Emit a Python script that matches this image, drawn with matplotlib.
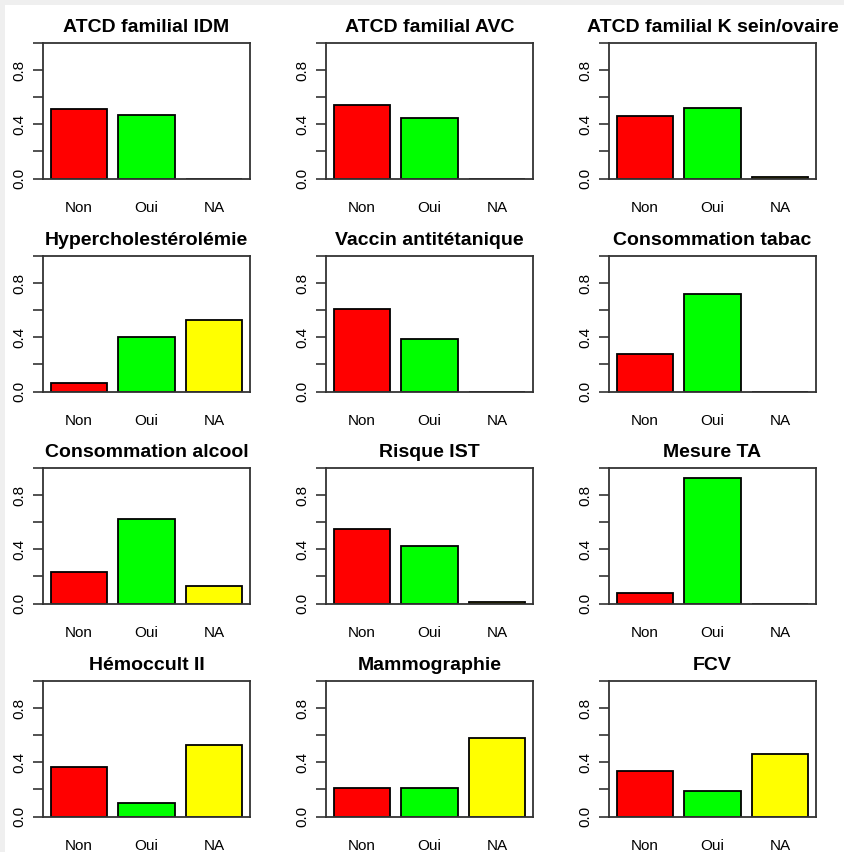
import matplotlib
matplotlib.use("Agg")
import matplotlib.pyplot as plt
from matplotlib.patches import Rectangle

titles = ["ATCD familial IDM", "ATCD familial AVC", "ATCD familial K sein/ovaire",
          "Hypercholestérolémie", "Vaccin antitétanique", "Consommation tabac",
          "Consommation alcool", "Risque IST", "Mesure TA",
          "Hémoccult II", "Mammographie", "FCV"]
categories = ["Non", "Oui", "NA"]
non_vals = [0.515, 0.544, 0.458, 0.064, 0.609, 0.274, 0.235, 0.553, 0.074, 0.367, 0.210, 0.335]
oui_vals = [0.470, 0.448, 0.522, 0.399, 0.391, 0.719, 0.627, 0.425, 0.928, 0.103, 0.210, 0.186]
na_vals = [0.0, 0.0, 0.012, 0.528, 0.0, 0.0, 0.131, 0.012, 0.0, 0.526, 0.577, 0.462]
bar_colors = ["#FF0000", "#00FF00", "#FFFF00"]
yticks = [0.0, 0.2, 0.4, 0.6, 0.8, 1.0]
yticklabels = ["0.0", "", "0.4", "", "0.8", ""]

W, H = 844, 852
fig = plt.figure(figsize=(W / 100, H / 100), dpi=100)
fig.patch.set_facecolor("#efefef")
fig.patches.append(Rectangle((5 / W, 0), 1 - 5 / W, (H - 5) / H,
                             transform=fig.transFigure, facecolor="white",
                             edgecolor="none", zorder=-10))

font = "Liberation Sans"
col_left = [43, 326, 609]
row_top = [43, 256, 468, 681]
box_w, box_h = 207, 135.5

# R barplot geometry: width 1, space 0.2
xpos = [0.7, 1.9, 3.1]
xlim = (0.2 - 0.136, 3.6 + 0.136)

for i, title in enumerate(titles):
    r, c = divmod(i, 3)
    left = col_left[c] / W
    bottom = 1 - (row_top[r] + box_h) / H
    ax = fig.add_axes([left, bottom, box_w / W, box_h / H])
    vals = [non_vals[i], oui_vals[i], na_vals[i]]
    ax.bar(xpos, vals, width=1.0, color=bar_colors, edgecolor="black", linewidth=1.3)
    ax.set_xlim(*xlim)
    ax.set_ylim(0, 1)
    ax.set_yticks(yticks)
    ax.set_yticklabels(yticklabels, rotation=90, va="center", fontsize=11, family=font)
    ax.set_xticks(xpos)
    ax.set_xticklabels(categories, fontsize=11, family=font)
    ax.tick_params(axis="x", length=0, pad=16)
    ax.tick_params(axis="y", length=7, width=1.2, pad=5, color="#333333")
    for s in ax.spines.values():
        s.set_linewidth(1.3)
        s.set_color("#333333")
    ax.set_title(title, fontsize=14, fontweight="bold", family=font, pad=8)

fig.savefig("out.png", dpi=100, facecolor=fig.get_facecolor())
